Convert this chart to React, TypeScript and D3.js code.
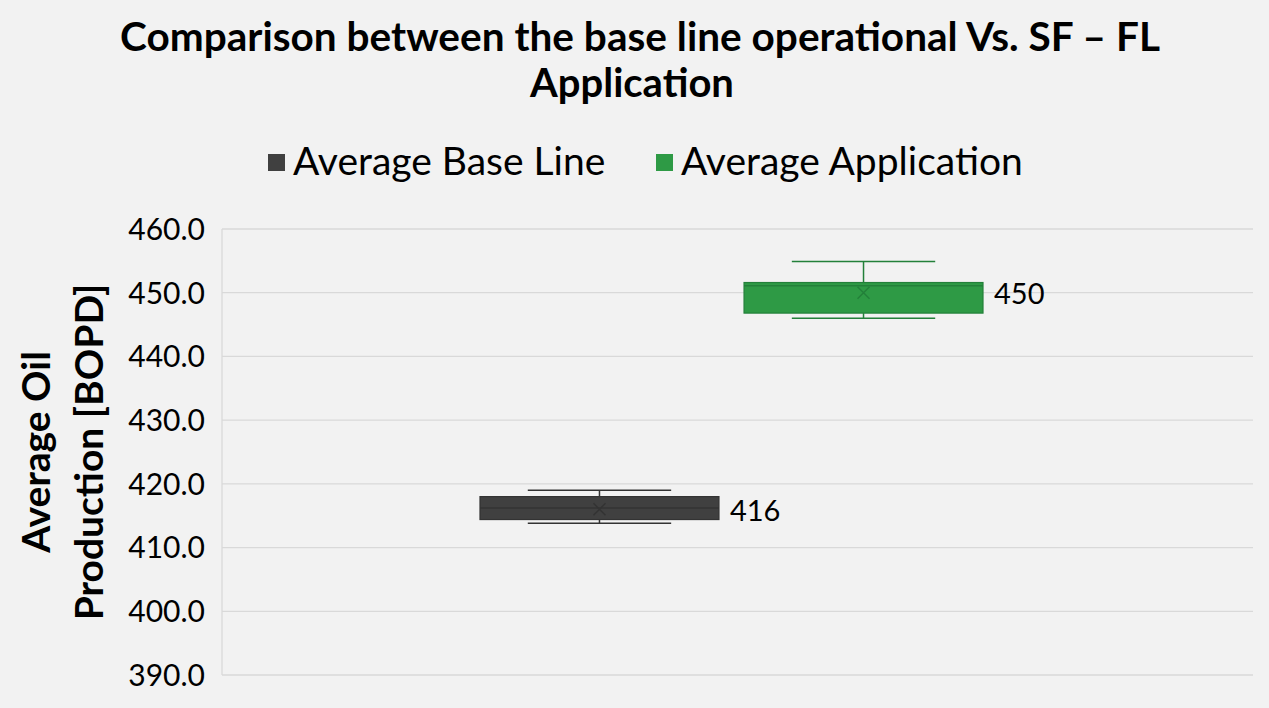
import { useEffect, useRef } from 'react';
import * as d3 from 'd3';

const seriesNames = ['Average Base Line', 'Average Application'];
const seriesColors = ['#404040', '#2e9a45'];
const seriesStrokes = ['#333333', '#23803a'];
const whiskerLow = [413.8, 446.0];
const boxLow = [414.4, 446.8];
const medians = [416.2, 451.1];
const boxHigh = [418.0, 451.6];
const whiskerHigh = [419.0, 454.9];
const means = [416, 450];
const dataLabels = ['416', '450'];
const yTicks = [390, 400, 410, 420, 430, 440, 450, 460];

export default function App() {
  const svgRef = useRef<SVGSVGElement>(null);

  useEffect(() => {
    if (!svgRef.current) return;
    const svg = d3.select(svgRef.current);
    svg.selectAll('*').remove();

    const width = 1269;
    const height = 708;
    const left = 222;
    const right = 1253;
    const top = 229;
    const bottom = 675;
    const font = 'Lato, "Open Sans", sans-serif';

    svg.attr('width', width).attr('height', height);
    svg.append('rect').attr('width', width).attr('height', height).attr('fill', '#f2f2f2');

    // Title
    const title = svg.append('text')
      .attr('text-anchor', 'middle')
      .attr('font-family', font)
      .attr('font-weight', 'bold')
      .attr('font-size', '40px')
      .attr('fill', '#000');
    title.append('tspan').attr('x', 640).attr('y', 51)
      .attr('textLength', 1040).attr('lengthAdjust', 'spacingAndGlyphs')
      .text('Comparison between the base line operational Vs. SF – FL');
    title.append('tspan').attr('x', 632).attr('y', 97).text('Application');

    // Legend
    const legendX = [268, 656];
    seriesNames.forEach((name, i) => {
      svg.append('rect')
        .attr('x', legendX[i]).attr('y', 154)
        .attr('width', 17).attr('height', 17)
        .attr('fill', seriesColors[i]);
      svg.append('text')
        .attr('x', legendX[i] + 25).attr('y', 175)
        .attr('font-family', font)
        .attr('font-size', '39px')
        .text(name);
    });

    const y = d3.scaleLinear().domain([390, 460]).range([bottom, top]);

    // Gridlines
    svg.append('g')
      .selectAll('line')
      .data(yTicks)
      .join('line')
      .attr('x1', left).attr('x2', right)
      .attr('y1', (d) => y(d)).attr('y2', (d) => y(d))
      .attr('stroke', '#d9d9d9').attr('stroke-width', 1.3);
    svg.append('line')
      .attr('x1', left).attr('x2', left)
      .attr('y1', top).attr('y2', bottom)
      .attr('stroke', '#d9d9d9').attr('stroke-width', 1.3);

    // Tick labels
    svg.append('g')
      .selectAll('text')
      .data(yTicks)
      .join('text')
      .attr('x', 205)
      .attr('y', (d) => y(d))
      .attr('dy', '0.36em')
      .attr('text-anchor', 'end')
      .attr('font-family', font)
      .attr('font-size', '30px')
      .text((d) => d.toFixed(1));

    // Y axis title
    const yTitle = svg.append('text')
      .attr('transform', 'translate(0,452) rotate(-90)')
      .attr('text-anchor', 'middle')
      .attr('font-family', font)
      .attr('font-weight', 'bold')
      .attr('font-size', '39px');
    yTitle.append('tspan').attr('x', 0).attr('y', 50).text('Average Oil');
    yTitle.append('tspan').attr('x', 0).attr('y', 103).text('Production [BOPD]');

    // Boxes
    const x = d3.scaleBand<string>()
      .domain(seriesNames)
      .range([480, 983])
      .paddingInner(0.095);
    const bw = x.bandwidth();

    seriesNames.forEach((name, i) => {
      const x0 = x(name) as number;
      const cx = x0 + bw / 2;
      const g = svg.append('g');
      const stroke = seriesStrokes[i];
      const capW = bw * 0.3;

      g.append('line').attr('x1', cx).attr('x2', cx)
        .attr('y1', y(whiskerHigh[i])).attr('y2', y(boxHigh[i]))
        .attr('stroke', stroke).attr('stroke-width', 1.5);
      g.append('line').attr('x1', cx).attr('x2', cx)
        .attr('y1', y(boxLow[i])).attr('y2', y(whiskerLow[i]))
        .attr('stroke', stroke).attr('stroke-width', 1.5);
      g.append('line').attr('x1', cx - capW).attr('x2', cx + capW)
        .attr('y1', y(whiskerHigh[i])).attr('y2', y(whiskerHigh[i]))
        .attr('stroke', stroke).attr('stroke-width', 1.5);
      g.append('line').attr('x1', cx - capW).attr('x2', cx + capW)
        .attr('y1', y(whiskerLow[i])).attr('y2', y(whiskerLow[i]))
        .attr('stroke', stroke).attr('stroke-width', 1.5);

      g.append('rect')
        .attr('x', x0).attr('y', y(boxHigh[i]))
        .attr('width', bw).attr('height', y(boxLow[i]) - y(boxHigh[i]))
        .attr('fill', seriesColors[i])
        .attr('stroke', stroke).attr('stroke-width', 1.2);
      g.append('line').attr('x1', x0).attr('x2', x0 + bw)
        .attr('y1', y(medians[i])).attr('y2', y(medians[i]))
        .attr('stroke', stroke).attr('stroke-width', 1.5);

      const my = y(means[i]);
      const s = 6;
      g.append('path')
        .attr('d', `M${cx - s},${my - s}L${cx + s},${my + s}M${cx - s},${my + s}L${cx + s},${my - s}`)
        .attr('stroke', stroke).attr('stroke-width', 1.5);

      svg.append('text')
        .attr('x', x0 + bw + 11)
        .attr('y', y(means[i]))
        .attr('dy', '0.4em')
        .attr('font-family', font)
        .attr('font-size', '29px')
        .text(dataLabels[i]);
    });
  }, []);

  return (
    <div style={{ position: 'absolute', left: 0, top: 0 }}>
      <svg ref={svgRef} style={{ display: 'block' }} />
    </div>
  );
}
